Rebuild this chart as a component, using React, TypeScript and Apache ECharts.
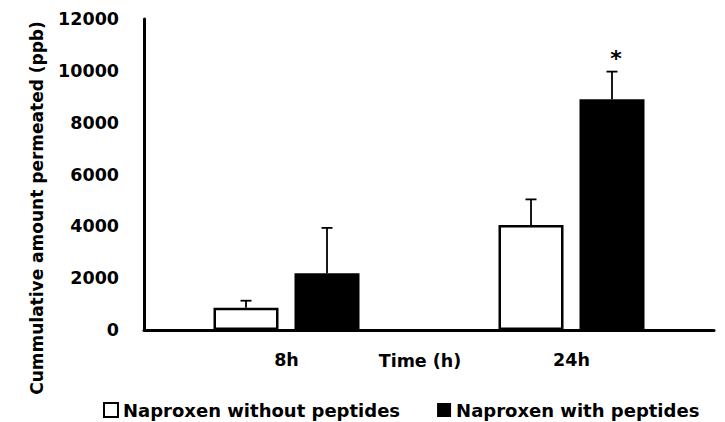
import React, { useEffect, useRef } from "react";
import * as echarts from "echarts";

const categories = ["8h", "24h"];
const seriesNames = ["Naproxen without peptides", "Naproxen with peptides"];
const withoutValues = [860, 4050];
const withoutSD = [270, 990];
const withValues = [2190, 8900];
const withSD = [1750, 1070];
const withoutMarks = ["", ""];
const withMarks = ["", "*"];
const yMin = 0;
const yMax = 12000;
const yInterval = 2000;
const yTitle = "Cummulative amount permeated (ppb)";
const xTitle = "Time (h)";

const FONT = '"DejaVu Sans", sans-serif';
const BAR_W = 65;
const BAR_GAP = 16;
const OFFSET = (BAR_W + BAR_GAP) / 2;

function errorSeries(values: number[], sds: number[], marks: string[], side: number) {
  return {
    type: "custom",
    name: "err" + side,
    z: 10,
    silent: true,
    data: values.map((v, i) => [i, v, sds[i]]),
    encode: { x: 0, y: 1 },
    renderItem: (params: any, api: any) => {
      const i = api.value(0);
      const v = api.value(1);
      const sd = api.value(2);
      const mark = marks[params.dataIndex];
      const base = api.coord([i, v]);
      const top = api.coord([i, v + sd]);
      const x = base[0] + side * OFFSET;
      const ls = { stroke: "#000", lineWidth: 1.8 };
      const children: any[] = [
        { type: "line", shape: { x1: x, y1: base[1], x2: x, y2: top[1] }, style: ls },
        { type: "line", shape: { x1: x - 5.5, y1: top[1], x2: x + 5.5, y2: top[1] }, style: ls },
      ];
      if (mark) {
        children.push({
          type: "text",
          x: x + 4,
          y: top[1] - 13,
          style: {
            text: mark,
            fontFamily: FONT,
            fontWeight: "bold",
            fontSize: 22,
            fill: "#000",
            align: "center",
            verticalAlign: "middle",
          },
        });
      }
      return { type: "group", children };
    },
  };
}

export default function App() {
  const ref = useRef<HTMLDivElement>(null);
  useEffect(() => {
    if (!ref.current) return;
    const chart = echarts.init(ref.current, null, { renderer: "svg" });
    const textBase = { fontFamily: FONT, fontWeight: "bold" as const, color: "#000" };
    chart.setOption({
      animation: false,
      backgroundColor: "#fff",
      grid: { left: 144, right: 11, top: 19, bottom: 92, containLabel: false },
      legend: {
        data: seriesNames.map((n) => ({ name: n, icon: "rect" })),
        left: 98,
        top: 396,
        itemWidth: 14,
        itemHeight: 14,
        itemGap: 37,
        textStyle: { ...textBase, fontSize: 18 },
      },
      xAxis: {
        type: "category",
        data: categories,
        axisLine: { lineStyle: { color: "#000", width: 3 } },
        axisTick: { show: false },
        axisLabel: { ...textBase, fontSize: 17.5, margin: 21 },
        splitLine: { show: false },
      },
      yAxis: {
        type: "value",
        min: yMin,
        max: yMax,
        interval: yInterval,
        axisLine: { show: true, lineStyle: { color: "#000", width: 3 } },
        axisTick: { show: false },
        axisLabel: {
          ...textBase,
          fontSize: 17.5,
          margin: 25,
          formatter: (v: number) => String(v),
        },
        splitLine: { show: false },
      },
      graphic: [
        {
          type: "text",
          x: 37,
          y: 208,
          rotation: Math.PI / 2,
          style: {
            text: yTitle,
            fontFamily: FONT,
            fontWeight: "bold",
            fontSize: 17,
            fill: "#000",
            align: "center",
            verticalAlign: "middle",
          },
        },
        {
          type: "text",
          x: 420,
          y: 361,
          style: {
            text: xTitle,
            fontFamily: FONT,
            fontWeight: "bold",
            fontSize: 17.5,
            fill: "#000",
            align: "center",
            verticalAlign: "middle",
          },
        },
      ],
      series: [
        {
          type: "bar",
          name: seriesNames[0],
          data: withoutValues,
          barWidth: BAR_W,
          barGap: (BAR_GAP / BAR_W) * 100 + "%",
          itemStyle: { color: "#fff", borderColor: "#000", borderWidth: 2.5 },
        },
        {
          type: "bar",
          name: seriesNames[1],
          data: withValues,
          barWidth: BAR_W,
          itemStyle: { color: "#000", borderColor: "#000", borderWidth: 0 },
        },
        errorSeries(withoutValues, withoutSD, withoutMarks, -1),
        errorSeries(withValues, withSD, withMarks, 1),
      ],
    });
    return () => chart.dispose();
  }, []);
  return (
    <div
      ref={ref}
      style={{ position: "fixed", left: 0, top: 0, width: 725, height: 422 }}
    />
  );
}
